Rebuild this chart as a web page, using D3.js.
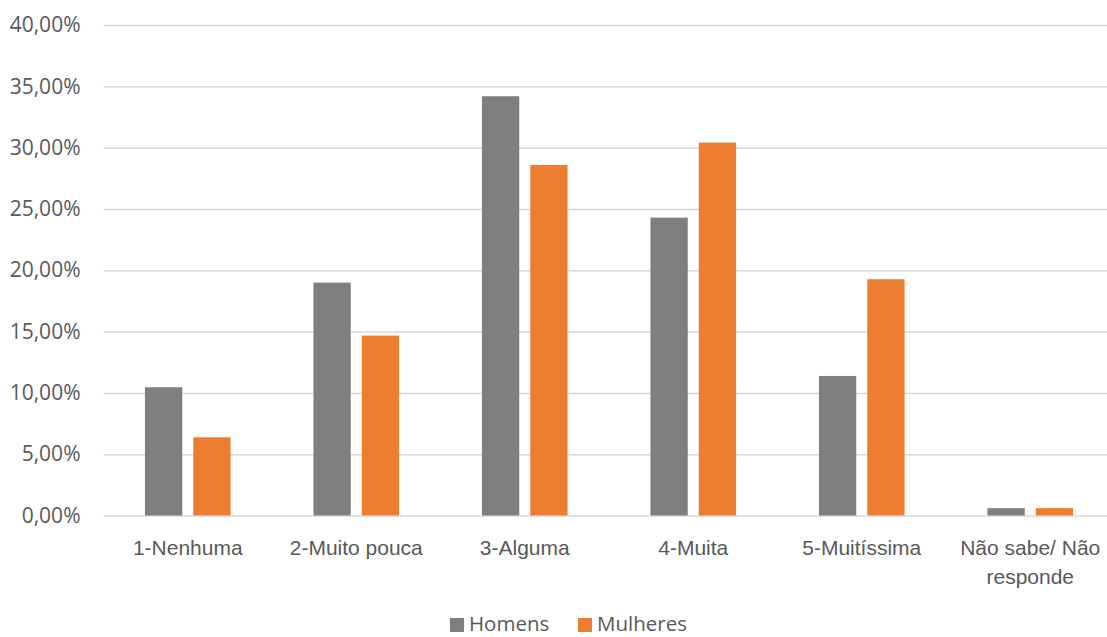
<!DOCTYPE html>
<html>
<head>
<meta charset="utf-8">
<script src="https://cdn.jsdelivr.net/npm/d3@7"></script>
<style>
  html, body { margin: 0; padding: 0; background: #fff; }
  svg { display: block; font-family: "Open Sans", sans-serif; }
</style>
</head>
<body>
<svg id="chart" width="1107" height="637"></svg>
<script>
// Categories (second-line breaks marked with "\n")
const categories = ["1-Nenhuma", "2-Muito pouca", "3-Alguma", "4-Muita", "5-Muitíssima", "Não sabe/ Não\nresponde"];
const seriesNames = ["Homens", "Mulheres"];
const homens   = [0.1046, 0.1899, 0.3419, 0.2429, 0.1138, 0.0060];
const mulheres = [0.0638, 0.1467, 0.2859, 0.3041, 0.1927, 0.0060];
const yTicks = [0, 0.05, 0.10, 0.15, 0.20, 0.25, 0.30, 0.35, 0.40];

const colors = { Homens: "#7f7f7f", Mulheres: "#ed7d31" };
const textColor = "#595959";
const gridColor = "#d9d9d9";

const svg = d3.select("#chart");

const plot = { left: 103.5, right: 1114.5, top: 25, bottom: 515.5 };

const x0 = d3.scaleBand()
  .domain(categories)
  .range([plot.left, plot.right])
  .paddingInner(0.492)
  .paddingOuter(0.246);

const x1 = d3.scaleBand()
  .domain(seriesNames)
  .range([0, x0.bandwidth()])
  .paddingInner(0.2277)
  .paddingOuter(0);

const y = d3.scaleLinear()
  .domain([0, 0.40])
  .range([plot.bottom, plot.top]);

const fmt = v => d3.format(".2f")(v * 100).replace(".", ",") + "%";

// Horizontal gridlines
const yAxis = d3.axisLeft(y)
  .tickValues(yTicks)
  .tickSize(-(plot.right - plot.left))
  .tickPadding(23)
  .tickFormat(fmt);

const gy = svg.append("g")
  .attr("transform", `translate(${plot.left},0)`)
  .call(yAxis);
gy.select(".domain").remove();
gy.selectAll(".tick line").attr("stroke", gridColor).attr("stroke-width", 1.5);
gy.selectAll(".tick text")
  .attr("fill", textColor)
  .attr("font-size", "21px")
  .attr("font-family", "'Open Sans', sans-serif");

// Bars
const rows = categories.map((c, i) => ({ cat: c, values: [
  { name: "Homens", value: homens[i] },
  { name: "Mulheres", value: mulheres[i] }
]}));

const groups = svg.append("g").selectAll("g")
  .data(rows)
  .join("g")
  .attr("transform", d => `translate(${x0(d.cat)},0)`);

groups.selectAll("rect")
  .data(d => d.values)
  .join("rect")
  .attr("x", d => x1(d.name))
  .attr("width", x1.bandwidth())
  .attr("y", d => y(d.value))
  .attr("height", d => y(0) - y(d.value))
  .attr("fill", d => colors[d.name]);

// Category labels
const xAxis = d3.axisBottom(x0).tickSize(0).tickPadding(0).tickFormat("");
const gx = svg.append("g")
  .attr("transform", `translate(0,${plot.bottom})`)
  .call(xAxis);
gx.select(".domain").remove();

gx.selectAll(".tick").each(function(d) {
  const lines = d.split("\n");
  const t = d3.select(this).append("text")
    .attr("fill", textColor)
    .attr("font-size", "21px")
    .attr("text-anchor", "middle");
  lines.forEach((ln, k) => {
    t.append("tspan")
      .attr("x", 0)
      .attr("y", 39.5 + k * 29)
      .text(ln);
  });
});

// Legend
const legend = svg.append("g").attr("transform", "translate(450,0)");
const legendItems = [
  { name: "Homens", x: 0 },
  { name: "Mulheres", x: 128 }
];
legendItems.forEach(it => {
  legend.append("rect")
    .attr("x", it.x)
    .attr("y", 618)
    .attr("width", 14)
    .attr("height", 14)
    .attr("fill", colors[it.name]);
  legend.append("text")
    .attr("x", it.x + 19)
    .attr("y", 631)
    .attr("fill", textColor)
    .attr("font-size", "20.5px")
    .text(it.name);
});
</script>
</body>
</html>
